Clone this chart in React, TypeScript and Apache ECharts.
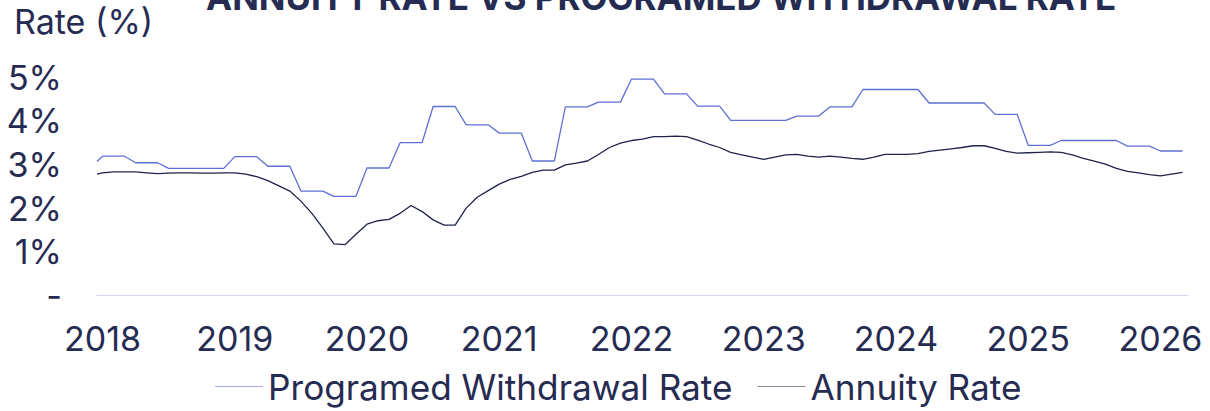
import React, { useEffect, useRef } from "react";
import * as echarts from "echarts";

const title = "ANNUITY RATE VS PROGRAMED WITHDRAWAL RATE";
const yAxisTitle = "Rate (%)";
const seriesNames = ["Programed Withdrawal Rate", "Annuity Rate"];
const yearLabels = ["2018", "2019", "2020", "2021", "2022", "2023", "2024", "2025", "2026"];
const yTicks = [0, 1, 2, 3, 4, 5];

// month offsets from Jan 2018 (first observation sits half a month before)
const firstOffset = -0.5;
const monthCount = 99; // Jan 2018 .. Mar 2026

// Programed withdrawal rate (%), first observation then monthly
const programedWithdrawal = [
  3.07,
  3.19, 3.19, 3.19, 3.04, 3.04, 3.04, 2.91, 2.91, 2.91, 2.91, 2.91, 2.91,
  3.18, 3.18, 3.18, 2.96, 2.96, 2.96, 2.39, 2.39, 2.39, 2.27, 2.27, 2.27,
  2.92, 2.92, 2.92, 3.5, 3.5, 3.5, 4.33, 4.33, 4.33, 3.91, 3.91, 3.91,
  3.72, 3.72, 3.72, 3.08, 3.08, 3.08, 4.32, 4.32, 4.32, 4.43, 4.43, 4.43,
  4.96, 4.96, 4.96, 4.62, 4.62, 4.62, 4.34, 4.34, 4.34, 4.01, 4.01, 4.01,
  4.01, 4.01, 4.01, 4.11, 4.11, 4.11, 4.32, 4.32, 4.32, 4.72, 4.72, 4.72,
  4.72, 4.72, 4.72, 4.41, 4.41, 4.41, 4.41, 4.41, 4.41, 4.15, 4.15, 4.15,
  3.44, 3.44, 3.44, 3.55, 3.55, 3.55, 3.55, 3.55, 3.55, 3.42, 3.42, 3.42,
  3.31, 3.31, 3.31,
];

// Annuity rate (%), first observation then monthly
const annuity = [
  2.78,
  2.81, 2.83, 2.83, 2.83, 2.81, 2.79, 2.8, 2.81, 2.81, 2.8, 2.8, 2.81,
  2.81, 2.78, 2.72, 2.63, 2.51, 2.39, 2.16, 1.88, 1.54, 1.18, 1.16, 1.4,
  1.63, 1.71, 1.74, 1.88, 2.06, 1.92, 1.73, 1.61, 1.61, 2.0, 2.25, 2.4,
  2.55, 2.66, 2.73, 2.82, 2.87, 2.87, 2.99, 3.03, 3.08, 3.23, 3.39, 3.49,
  3.55, 3.58, 3.64, 3.64, 3.65, 3.64, 3.56, 3.47, 3.39, 3.28, 3.22, 3.17,
  3.12, 3.17, 3.22, 3.23, 3.19, 3.17, 3.19, 3.17, 3.14, 3.12, 3.17, 3.23,
  3.23, 3.23, 3.25, 3.3, 3.33, 3.36, 3.39, 3.43, 3.43, 3.37, 3.3, 3.26,
  3.27, 3.28, 3.29, 3.28, 3.22, 3.14, 3.08, 3.01, 2.91, 2.84, 2.81, 2.77,
  2.74, 2.78, 2.82,
];

const xPositions = [firstOffset, ...Array.from({ length: monthCount }, (_, i) => i)];
const yearTickValues = yearLabels.map((_, i) => i * 12);

const TEXT = "#262b52";
const FONT = "Inter";
const FS = 34;

export default function App() {
  const ref = useRef<HTMLDivElement>(null);
  useEffect(() => {
    if (!ref.current) return;
    const chart = echarts.init(ref.current, null, { renderer: "svg" });
    chart.setOption({
      animation: false,
      backgroundColor: "#ffffff",
      textStyle: { fontFamily: FONT },
      title: {
        text: title,
        left: 206,
        top: -21,
        padding: 0,
        textStyle: { fontFamily: FONT, fontSize: 35, fontWeight: "bold", color: TEXT },
      },
      graphic: [
        {
          type: "text",
          left: 14,
          top: 4,
          style: { text: yAxisTitle, fontFamily: FONT, fontSize: FS, fill: TEXT },
        },
      ],
      legend: {
        left: 210,
        top: 364,
        icon: "rect",
        itemWidth: 48,
        itemHeight: 1,
        itemGap: 25,
        textStyle: { fontFamily: FONT, fontSize: 35.2, color: TEXT },
        data: seriesNames,
      },
      grid: { left: 97, right: 22, top: 77.3, bottom: 115.7, containLabel: false },
      xAxis: {
        type: "value",
        min: firstOffset,
        max: monthCount - 0.5,
        splitLine: { show: false },
        axisTick: { show: false },
        axisLine: { show: true, lineStyle: { color: "#d3d4ec", width: 1 } },
        axisLabel: {
          customValues: yearTickValues,
          formatter: (v: number) => yearLabels[Math.round(v / 12)] ?? "",
          color: TEXT,
          fontFamily: FONT,
          fontSize: FS,
          margin: 26,
        },
      },
      yAxis: {
        type: "value",
        min: yTicks[0],
        max: yTicks[yTicks.length - 1],
        interval: 1,
        splitLine: { show: false },
        axisLine: { show: false },
        axisTick: { show: false },
        axisLabel: {
          formatter: (v: number) => (v === 0 ? "-" : v + "%"),
          color: TEXT,
          fontFamily: FONT,
          fontSize: FS,
          margin: 35,
        },
      },
      series: [
        {
          name: seriesNames[0],
          type: "line",
          data: programedWithdrawal.map((v, i) => [xPositions[i], v]),
          showSymbol: false,
          symbol: "none",
          lineStyle: { color: "#5f6fd6", width: 1.3 },
          itemStyle: { color: "#a3abe6" },
        },
        {
          name: seriesNames[1],
          type: "line",
          data: annuity.map((v, i) => [xPositions[i], v]),
          showSymbol: false,
          symbol: "none",
          lineStyle: { color: "#1f2448", width: 1.3 },
          itemStyle: { color: "#8a8c9e" },
        },
      ],
    });
    return () => chart.dispose();
  }, []);
  return <div ref={ref} style={{ width: 1210, height: 411, position: "absolute", left: 0, top: 0 }} />;
}
